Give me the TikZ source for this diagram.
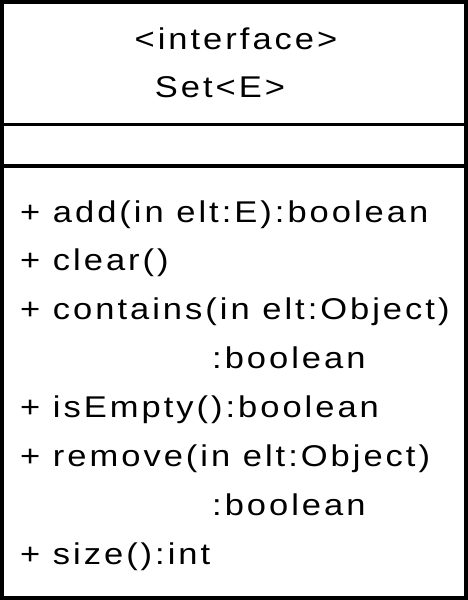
\documentclass[tikz,border=0pt]{standalone}
\usepackage{fontspec}
\setmainfont[FakeStretch=1.15,LetterSpace=10]{Liberation Sans}
\begin{document}
\begin{tikzpicture}[x=1pt,y=-1pt]
\tikzset{
  umltext/.style={inner sep=0pt, anchor=base west, font=\fontsize{30}{36}\selectfont},
  umlhead/.style={inner sep=0pt, anchor=base, font=\fontsize{30}{36}\selectfont},
  frame/.style={draw=black, line width=4pt},
  divider/.style={draw=black, line width=3.5pt}
}
\useasboundingbox (0,0) rectangle (468,600);
\fill[white] (0,0) rectangle (468,600);
\draw[frame] (2,2) rectangle (466,598);
\coordinate (d1l) at (0,124.5);
\coordinate (d1r) at (468,124.5);
\coordinate (d2l) at (0,166);
\coordinate (d2r) at (468,166);
\draw[divider] (d1l) -- (d1r);
\draw[divider] (d2l) -- (d2r);
\node[umlhead] (stereo) at (236,49) {<interface>};
\node[umlhead] (name) at (220,97) {Set<E>};
\node[umltext] (m1) at (20,222) {+ add(in elt:E):boolean};
\node[umltext] (m2) at (20,270.9) {+ clear()};
\node[umltext] (m3) at (20,319.7) {+ contains(in elt:Object)};
\node[umltext] (m3b) at (212,368.6) {:boolean};
\node[umltext] (m4) at (20,417.4) {+ isEmpty():boolean};
\node[umltext] (m5) at (20,466.3) {+ remove(in elt:Object)};
\node[umltext] (m5b) at (212,515.1) {:boolean};
\node[umltext] (m6) at (20,564) {+ size():int};
\end{tikzpicture}
\end{document}
